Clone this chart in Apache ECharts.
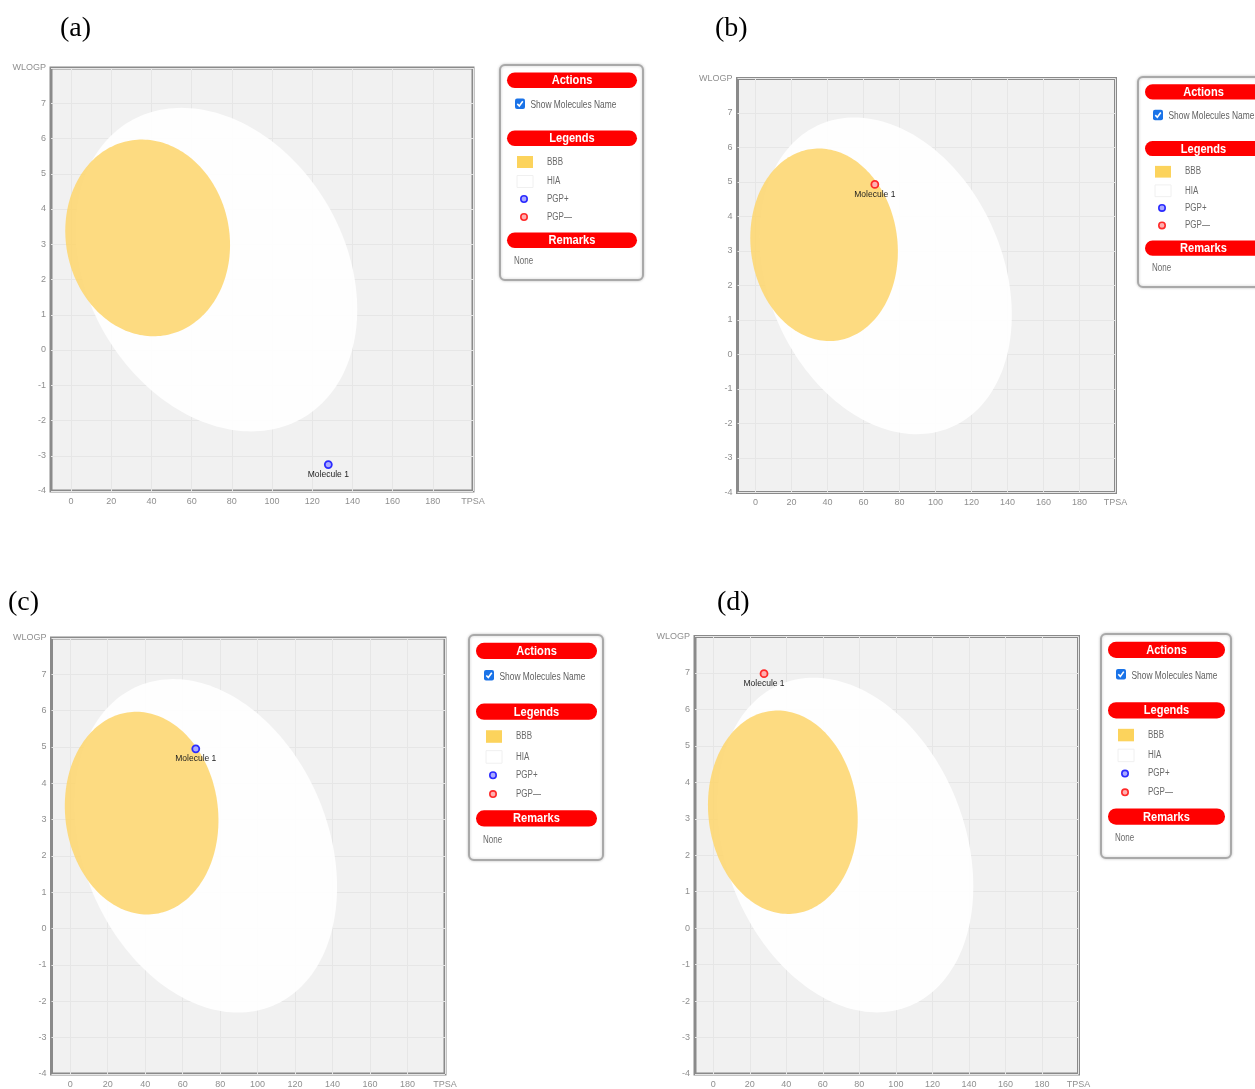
<!DOCTYPE html>
<html>
<head>
<meta charset="utf-8">
<script src="https://cdn.jsdelivr.net/npm/echarts@6/dist/echarts.min.js"></script>
<style>
  html, body { margin: 0; padding: 0; background: #ffffff; }
  #chart { width: 1255px; height: 1089px; }
</style>
</head>
<body>
<div id="chart"></div>
<script>
// ---- data ----
const panelTags = ['(a)', '(b)', '(c)', '(d)'];
const xTicks = [0, 20, 40, 60, 80, 100, 120, 140, 160, 180];
const yTicks = [-4, -3, -2, -1, 0, 1, 2, 3, 4, 5, 6, 7];
const xAxisName = 'TPSA';
const yAxisName = 'WLOGP';
const moleculeNames = ['Molecule 1', 'Molecule 1', 'Molecule 1', 'Molecule 1'];
const moleculeTPSA = [128.0, 66.3, 67.0, 27.8];
const moleculeWLOGP = [-3.25, 4.93, 4.95, 6.98];
const moleculePGP = ['PGP+', 'PGP-', 'PGP+', 'PGP-'];
// egg regions: centre TPSA, centre WLOGP, half-width (TPSA), half-height (WLOGP), tilt
const hiaEgg = [72.3, 2.28, 70.1, 4.59, -0.247];
const bbbEgg = [38.1, 3.18, 41.0, 2.79, -0.071];
const legendItems = ['BBB', 'HIA', 'PGP+', 'PGP\u2014'];
const sectionTitles = ['Actions', 'Legends', 'Remarks'];
const actionLabel = 'Show Molecules Name';
const remarkText = 'None';

// ---- layout ----
const SANS = '"Liberation Sans Narrow", "Liberation Sans", Arial, sans-serif';
const grids = [
  { left: 51,    top: 68,    width: 422,   height: 423 },
  { left: 737.5, top: 78.5,  width: 378,   height: 414 },
  { left: 51.5,  top: 638,   width: 393.5, height: 438.5 },
  { left: 695,   top: 636.5, width: 383.5, height: 440.5 }
];
const tagPos = [[60, 28], [715, 28], [8, 602], [717, 602]];
const sideBoxes = [
  { x: 500,  y: 65,  w: 143, h: 215 },
  { x: 1138, y: 77,  w: 130, h: 210 },
  { x: 469,  y: 635, w: 134, h: 225 },
  { x: 1101, y: 634, w: 130, h: 224 }
];

const PGP_STYLE = {
  'PGP+': { fill: '#aaaaff', stroke: '#2b2bff' },
  'PGP-': { fill: '#ffb0b0', stroke: '#ff2a2a' }
};

function eggSeries(idx, egg, fill) {
  return {
    type: 'custom',
    xAxisIndex: idx,
    yAxisIndex: idx,
    silent: true,
    clip: true,
    z: 1,
    data: [[egg[0], egg[1]]],
    renderItem: function (params, api) {
      const cx = egg[0], cy = egg[1], rx = egg[2], ry = egg[3], k = egg[4];
      const q = Math.sqrt(1 - k * k);
      const pts = [];
      const n = 200;
      for (let i = 0; i < n; i++) {
        const t = (i / n) * Math.PI * 2;
        pts.push(api.coord([cx + rx * Math.cos(t), cy + ry * (k * Math.cos(t) + q * Math.sin(t))]));
      }
      return { type: 'polygon', shape: { points: pts }, style: { fill: fill } };
    }
  };
}

// narrow-looking label: regular font squeezed horizontally
function narrowText(x, y, text, font, fill, align, sx) {
  return {
    type: 'text', z: 12, x: x, y: y, scaleX: sx,
    style: { text: text, fill: fill, font: font, align: align || 'left', verticalAlign: 'middle' }
  };
}

function sidePanel(b) {
  const s = b.h / 215;
  const els = [];
  const x = b.x, y = b.y, w = b.w;
  els.push({
    type: 'rect', z: 10,
    shape: { x: x, y: y, width: w, height: b.h, r: 5 },
    style: { fill: '#ffffff', stroke: '#a9a9a9', lineWidth: 2, shadowBlur: 3, shadowColor: 'rgba(0,0,0,0.2)' }
  });
  const bar = function (oy, text) {
    els.push({
      type: 'rect', z: 11,
      shape: { x: x + 7, y: y + oy * s, width: w - 13, height: 15.5 * s, r: 8 },
      style: { fill: '#ff0000' }
    });
    els.push(narrowText(x + 7 + (w - 13) / 2, y + (oy + 8) * s, text, 'bold 13.5px ' + SANS, '#ffffff', 'center', 0.82));
  };
  bar(7.5, sectionTitles[0]);
  // checkbox
  const cbx = x + 15, cby = y + 33.5 * s;
  els.push({ type: 'rect', z: 11, shape: { x: cbx, y: cby, width: 10, height: 10.5, r: 2 }, style: { fill: '#1a73e8' } });
  els.push({
    type: 'polyline', z: 12,
    shape: { points: [[cbx + 2.3, cby + 5.4], [cbx + 4.3, cby + 7.5], [cbx + 7.8, cby + 2.7]] },
    style: { stroke: '#ffffff', lineWidth: 1.6, fill: null }
  });
  els.push(narrowText(x + 30.5, y + 40 * s, actionLabel, '10.5px ' + SANS, '#606060', 'left', 0.8));
  bar(65.5, sectionTitles[1]);
  const rowY = [97, 116.5, 134, 152];
  // BBB swatch
  els.push({ type: 'rect', z: 11, shape: { x: x + 17, y: y + (rowY[0] - 6) * s, width: 16, height: 12 * s }, style: { fill: '#fcd35c' } });
  // HIA swatch
  els.push({ type: 'rect', z: 11, shape: { x: x + 17, y: y + (rowY[1] - 6) * s, width: 16, height: 12 * s }, style: { fill: '#ffffff', stroke: '#f0f0f0', lineWidth: 1 } });
  // PGP markers
  els.push({ type: 'circle', z: 11, shape: { cx: x + 24, cy: y + rowY[2] * s, r: 3.2 }, style: { fill: PGP_STYLE['PGP+'].fill, stroke: PGP_STYLE['PGP+'].stroke, lineWidth: 1.6 } });
  els.push({ type: 'circle', z: 11, shape: { cx: x + 24, cy: y + rowY[3] * s, r: 3.2 }, style: { fill: PGP_STYLE['PGP-'].fill, stroke: PGP_STYLE['PGP-'].stroke, lineWidth: 1.6 } });
  legendItems.forEach(function (label, i) {
    els.push(narrowText(x + 47, y + rowY[i] * s, label, '10px ' + SANS, '#6a6a6a', 'left', 0.8));
  });
  bar(167.5, sectionTitles[2]);
  els.push(narrowText(x + 14, y + 196 * s, remarkText, '10px ' + SANS, '#6a6a6a', 'left', 0.8));
  return els;
}

const xAxes = [], yAxes = [], series = [], graphics = [];
grids.forEach(function (g, i) {
  xAxes.push({
    gridIndex: i, type: 'value', min: -10, max: 200, interval: 10,
    axisLine: { show: false }, axisTick: { show: false },
    axisLabel: {
      color: '#8f8f8f', fontSize: 9, fontFamily: SANS, margin: 6,
      showMinLabel: true, showMaxLabel: true,
      formatter: function (v) {
        if (v === 200) return xAxisName;
        return xTicks.indexOf(v) >= 0 ? String(v) : '';
      }
    },
    splitLine: { show: true, lineStyle: { color: ['rgba(0,0,0,0)', '#e6e6e6'], width: 1 } }
  });
  yAxes.push({
    gridIndex: i, type: 'value', min: -4, max: 8, interval: 1,
    axisLine: { show: false }, axisTick: { show: false },
    axisLabel: {
      color: '#8f8f8f', fontSize: 9, fontFamily: SANS, margin: 5,
      formatter: function (v) {
        if (v === 8) return yAxisName;
        return yTicks.indexOf(v) >= 0 ? String(v) : '';
      }
    },
    splitLine: { show: true, lineStyle: { color: '#e6e6e6', width: 1 } }
  });
  series.push(eggSeries(i, hiaEgg, 'rgba(255,255,255,0.9)'));
  series.push(eggSeries(i, bbbEgg, 'rgba(253,214,112,0.88)'));
  const st = PGP_STYLE[moleculePGP[i]];
  series.push({
    type: 'scatter', xAxisIndex: i, yAxisIndex: i, z: 5, silent: true,
    data: [{ name: moleculeNames[i], value: [moleculeTPSA[i], moleculeWLOGP[i]] }],
    symbol: 'circle', symbolSize: 7,
    itemStyle: { color: st.fill, borderColor: st.stroke, borderWidth: 1.8, opacity: 1 },
    label: {
      show: true, position: 'bottom', distance: 1, formatter: '{b}',
      fontSize: 8.5, fontFamily: SANS, color: '#1e1e1e'
    }
  });
  graphics.push({
    type: 'text', left: tagPos[i][0], top: tagPos[i][1] - 13,
    style: { text: panelTags[i], fill: '#000000', font: '28px "Liberation Serif", "Times New Roman", serif' }
  });
  sidePanel(sideBoxes[i]).forEach(function (e) { graphics.push(e); });
});

const chart = echarts.init(document.getElementById('chart'), null, { renderer: 'canvas' });
chart.setOption({
  animation: false,
  backgroundColor: '#ffffff',
  grid: grids.map(function (g) {
    return {
      left: g.left, top: g.top, width: g.width, height: g.height,
      show: true, backgroundColor: '#f1f1f1', borderColor: '#8a8a8a', borderWidth: 3,
      containLabel: false
    };
  }),
  xAxis: xAxes,
  yAxis: yAxes,
  series: series,
  graphic: { elements: graphics }
});
</script>
</body>
</html>
